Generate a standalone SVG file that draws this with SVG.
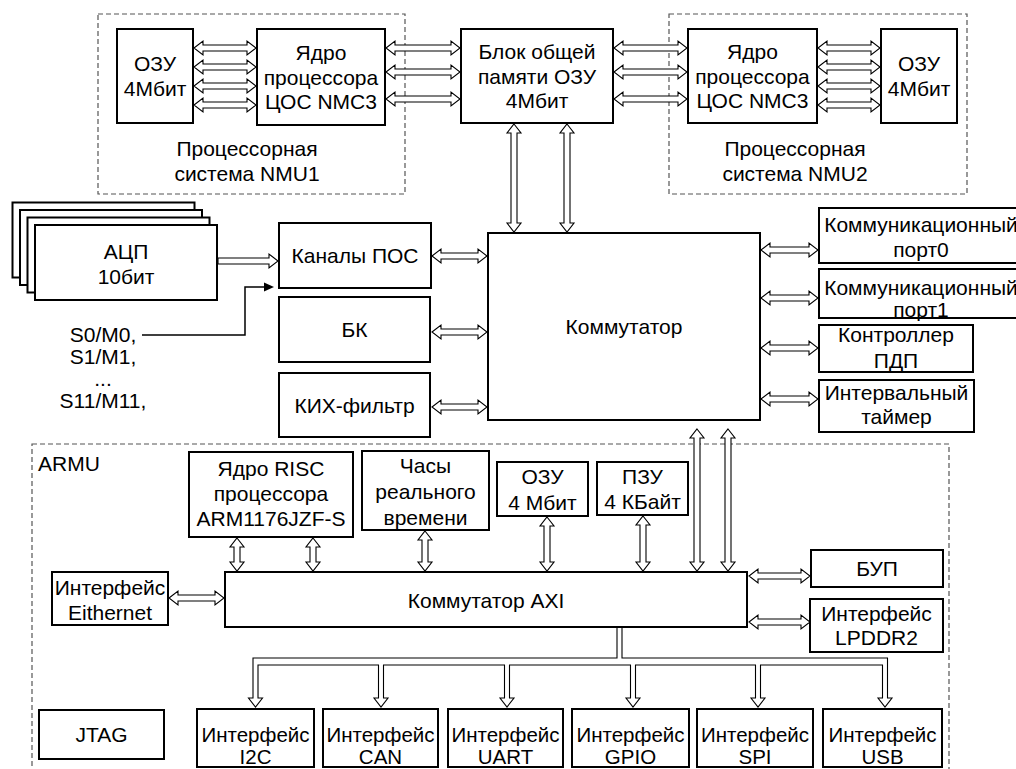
<svg xmlns="http://www.w3.org/2000/svg" width="1016" height="769" viewBox="0 0 1016 769">
<style>
.bx{fill:#fff;stroke:#000;stroke-width:2}
.dash{fill:none;stroke:#555;stroke-width:1.2;stroke-dasharray:5,3}
.ar{fill:#fff;stroke:#000;stroke-width:1.1;stroke-linejoin:miter}
.ln{fill:none;stroke:#000;stroke-width:1.5}
text{font-family:"Liberation Sans",Arial,sans-serif;font-size:21px;fill:#000;text-anchor:middle}
.l{text-anchor:start}
.s{font-size:20.5px}
</style>
<rect width="1016" height="769" fill="#fff"/>
<g id="nmu1">
<rect class="dash" x="98" y="14" width="307" height="180"/>
<text x="247" y="156">Процессорная</text>
<text x="247" y="181">система NMU1</text>
</g>
<g id="nmu2">
<rect class="dash" x="669" y="14" width="298" height="180"/>
<text x="795" y="156">Процессорная</text>
<text x="795" y="181">система NMU2</text>
</g>
<g id="armu">
<rect class="dash" x="32" y="444" width="917" height="340"/>
<text class="l" x="38" y="471">ARMU</text>
</g>
<g id="connectors">
<polygon class="ar" points="194,48 203,41 203,45 247,45 247,41 256,48 247,55 247,51 203,51 203,55"/>
<polygon class="ar" points="194,67 203,60 203,64 247,64 247,60 256,67 247,74 247,70 203,70 203,74"/>
<polygon class="ar" points="194,86 203,79 203,83 247,83 247,79 256,86 247,93 247,89 203,89 203,93"/>
<polygon class="ar" points="194,105 203,98 203,102 247,102 247,98 256,105 247,112 247,108 203,108 203,112"/>
<polygon class="ar" points="386,48 395,41 395,45 451,45 451,41 460,48 451,55 451,51 395,51 395,55"/>
<polygon class="ar" points="386,72 395,65 395,69 451,69 451,65 460,72 451,79 451,75 395,75 395,79"/>
<polygon class="ar" points="386,99 395,92 395,96 451,96 451,92 460,99 451,106 451,102 395,102 395,106"/>
<polygon class="ar" points="614,48 623,41 623,45 678,45 678,41 687,48 678,55 678,51 623,51 623,55"/>
<polygon class="ar" points="614,72 623,65 623,69 678,69 678,65 687,72 678,79 678,75 623,75 623,79"/>
<polygon class="ar" points="614,99 623,92 623,96 678,96 678,92 687,99 678,106 678,102 623,102 623,106"/>
<polygon class="ar" points="818,48 827,41 827,45 871,45 871,41 880,48 871,55 871,51 827,51 827,55"/>
<polygon class="ar" points="818,67 827,60 827,64 871,64 871,60 880,67 871,74 871,70 827,70 827,74"/>
<polygon class="ar" points="818,86 827,79 827,83 871,83 871,79 880,86 871,93 871,89 827,89 827,93"/>
<polygon class="ar" points="818,105 827,98 827,102 871,102 871,98 880,105 871,112 871,108 827,108 827,112"/>
<polygon class="ar" points="432,256 441,249 441,253 478,253 478,249 487,256 478,263 478,259 441,259 441,263"/>
<polygon class="ar" points="432,332 441,325 441,329 478,329 478,325 487,332 478,339 478,335 441,335 441,339"/>
<polygon class="ar" points="432,407 441,400 441,404 478,404 478,400 487,407 478,414 478,410 441,410 441,414"/>
<polygon class="ar" points="761,250 770,243 770,247 809,247 809,243 818,250 809,257 809,253 770,253 770,257"/>
<polygon class="ar" points="761,298 770,291 770,295 809,295 809,291 818,298 809,305 809,301 770,301 770,305"/>
<polygon class="ar" points="761,348 770,341 770,345 809,345 809,341 818,348 809,355 809,351 770,351 770,355"/>
<polygon class="ar" points="761,399 770,392 770,396 809,396 809,392 818,399 809,406 809,402 770,402 770,406"/>
<polygon class="ar" points="169,598 178,591 178,595 215,595 215,591 224,598 215,605 215,601 178,601 178,605"/>
<polygon class="ar" points="749,576 758,569 758,573 801,573 801,569 810,576 801,583 801,579 758,579 758,583"/>
<polygon class="ar" points="749,622 758,615 758,619 801,619 801,615 810,622 801,629 801,625 758,625 758,629"/>
<polygon class="ar" points="514,124 521,133 517,133 517,223 521,223 514,232 507,223 511,223 511,133 507,133"/>
<polygon class="ar" points="567,124 574,133 570,133 570,223 574,223 567,232 560,223 564,223 564,133 560,133"/>
<polygon class="ar" points="237,538 244,547 240,547 240,562 244,562 237,571 230,562 234,562 234,547 230,547"/>
<polygon class="ar" points="313,538 320,547 316,547 316,562 320,562 313,571 306,562 310,562 310,547 306,547"/>
<polygon class="ar" points="425,531 432,540 428,540 428,562 432,562 425,571 418,562 422,562 422,540 418,540"/>
<polygon class="ar" points="547,517 554,526 550,526 550,562 554,562 547,571 540,562 544,562 544,526 540,526"/>
<polygon class="ar" points="643,516 650,525 646,525 646,562 650,562 643,571 636,562 640,562 640,525 636,525"/>
<polygon class="ar" points="697,429 704,438 700,438 700,562 704,562 697,571 690,562 694,562 694,438 690,438"/>
<polygon class="ar" points="728,429 735,438 731,438 731,562 735,562 728,571 721,562 725,562 725,438 721,438"/>
<polygon class="ar" points="218,258 269,258 269,254 278,261 269,268 269,264 218,264"/>
<polygon class="ar" points="617,627 617,658 253,658 253,698 248.5,698 255.5,707 262.5,698 258,698 258,665 378.5,665 378.5,698 374,698 381,707 388,698 383.5,698 383.5,665 504.5,665 504.5,698 500,698 507,707 514,698 509.5,698 509.5,665 630.5,665 630.5,698 626,698 633,707 640,698 635.5,698 635.5,665 755.5,665 755.5,698 751,698 758,707 765,698 760.5,698 760.5,665 882.5,665 882.5,698 878,698 885,707 892,698 887.5,698 887.5,658 622,658 622,627"/>
<polyline class="ln" points="142,335 245,335 245,287 266,287"/>
<polygon points="274,287 264,282.5 264,291.5" fill="#000"/>
</g>
<g id="ozu1"><rect class="bx" x="117" y="29" width="76" height="94"/><text x="155" y="71">ОЗУ</text><text x="155" y="96">4Мбит</text></g>
<g id="core1"><rect class="bx" x="257" y="29" width="128" height="96"/><text x="321" y="60">Ядро</text><text x="321" y="84.5">процессора</text><text x="321" y="109">ЦОС NMC3</text></g>
<g id="shared"><rect class="bx" x="461" y="29" width="152" height="94"/><text x="537" y="59">Блок общей</text><text x="537" y="83.5">памяти ОЗУ</text><text x="537" y="108">4Мбит</text></g>
<g id="core2"><rect class="bx" x="688" y="29" width="129" height="94"/><text x="752.5" y="59">Ядро</text><text x="752.5" y="83.5">процессора</text><text x="752.5" y="108">ЦОС NMC3</text></g>
<g id="ozu2"><rect class="bx" x="881" y="29" width="76" height="94"/><text x="919" y="71">ОЗУ</text><text x="919" y="96">4Мбит</text></g>
<g id="adc">
<rect class="bx" x="12.5" y="202.5" width="182" height="75"/>
<rect class="bx" x="20" y="210" width="182" height="75"/>
<rect class="bx" x="27.5" y="217.5" width="182" height="75"/>
<rect class="bx" x="35" y="225" width="182" height="75"/>
<text x="126" y="258.5">АЦП</text><text x="126" y="283.5">10бит</text>
</g>
<g id="signals"><text x="103" y="342">S0/M0,</text><text x="103" y="364">S1/M1,</text><text x="103" y="386">...</text><text x="103" y="408">S11/M11,</text></g>
<g id="pos"><rect class="bx" x="279" y="223" width="152" height="65"/><text x="355" y="263">Каналы ПОС</text></g>
<g id="bk"><rect class="bx" x="279" y="297" width="151" height="65"/><text x="354.5" y="337">БК</text></g>
<g id="fir"><rect class="bx" x="279" y="373" width="151" height="64"/><text x="354.5" y="412.5">КИХ-фильтр</text></g>
<g id="switch"><rect class="bx" x="488" y="233" width="272" height="187"/><text x="624" y="334">Коммутатор</text></g>
<g id="port0"><rect class="bx" x="819" y="208" width="205" height="55"/><text x="921" y="231.5">Коммуникационный</text><text x="921" y="257">порт0</text></g>
<g id="port1"><rect class="bx" x="819" y="269" width="205" height="49"/><text x="921" y="294.5">Коммуникационный</text><text x="921" y="316.5">порт1</text></g>
<g id="dma"><rect class="bx" x="819" y="325" width="154" height="47"/><text x="896" y="342">Контроллер</text><text x="896" y="368">ПДП</text></g>
<g id="timer"><rect class="bx" x="819" y="380" width="155" height="52"/><text x="896.5" y="400">Интервальный</text><text x="896.5" y="424">таймер</text></g>
<g id="risc"><rect class="bx" x="189" y="452" width="164" height="85"/><text x="271" y="475.5">Ядро RISC</text><text x="271" y="500.5">процессора</text><text x="271" y="525.5">ARM1176JZF-S</text></g>
<g id="rtc"><rect class="bx" x="362" y="451" width="127" height="79"/><text x="425.5" y="472.5">Часы</text><text x="425.5" y="498.5">реального</text><text x="425.5" y="524.5">времени</text></g>
<g id="ram"><rect class="bx" x="497" y="462" width="91" height="54"/><text x="542.5" y="483.5">ОЗУ</text><text x="542.5" y="509.5">4 Мбит</text></g>
<g id="rom"><rect class="bx" x="597" y="462" width="91" height="53"/><text x="642.5" y="483.5">ПЗУ</text><text x="642.5" y="509">4 КБайт</text></g>
<g id="axi"><rect class="bx" x="225" y="572" width="522" height="55"/><text x="486" y="607.5">Коммутатор AXI</text></g>
<g id="eth"><rect class="bx" x="52" y="572" width="116" height="53"/><text x="110" y="594.5">Интерфейс</text><text x="110" y="619.5">Eithernet</text></g>
<g id="bup"><rect class="bx" x="811" y="550" width="132" height="37"/><text x="877" y="575.5">БУП</text></g>
<g id="lpddr"><rect class="bx" x="810" y="599" width="133" height="53"/><text x="876.5" y="620.5">Интерфейс</text><text x="876.5" y="644.5">LPDDR2</text></g>
<g id="jtag"><rect class="bx" x="39" y="710" width="125" height="49"/><text x="101.5" y="741.5">JTAG</text></g>
<g id="i2c"><rect class="bx" x="197" y="709" width="117" height="58"/><text class="s" x="255.5" y="741.5">Интерфейс</text><text class="s" x="255.5" y="763.5">I2C</text></g>
<g id="can"><rect class="bx" x="323" y="709" width="115" height="58"/><text class="s" x="380.5" y="741.5">Интерфейс</text><text class="s" x="380.5" y="763.5">CAN</text></g>
<g id="uart"><rect class="bx" x="448" y="709" width="115" height="58"/><text class="s" x="505.5" y="741.5">Интерфейс</text><text class="s" x="505.5" y="763.5">UART</text></g>
<g id="gpio"><rect class="bx" x="572" y="709" width="117" height="58"/><text class="s" x="630.5" y="741.5">Интерфейс</text><text class="s" x="630.5" y="763.5">GPIO</text></g>
<g id="spi"><rect class="bx" x="697" y="709" width="116" height="58"/><text class="s" x="755" y="741.5">Интерфейс</text><text class="s" x="755" y="763.5">SPI</text></g>
<g id="usb"><rect class="bx" x="823" y="709" width="119" height="58"/><text class="s" x="882.5" y="741.5">Интерфейс</text><text class="s" x="882.5" y="763.5">USB</text></g>
</svg>
